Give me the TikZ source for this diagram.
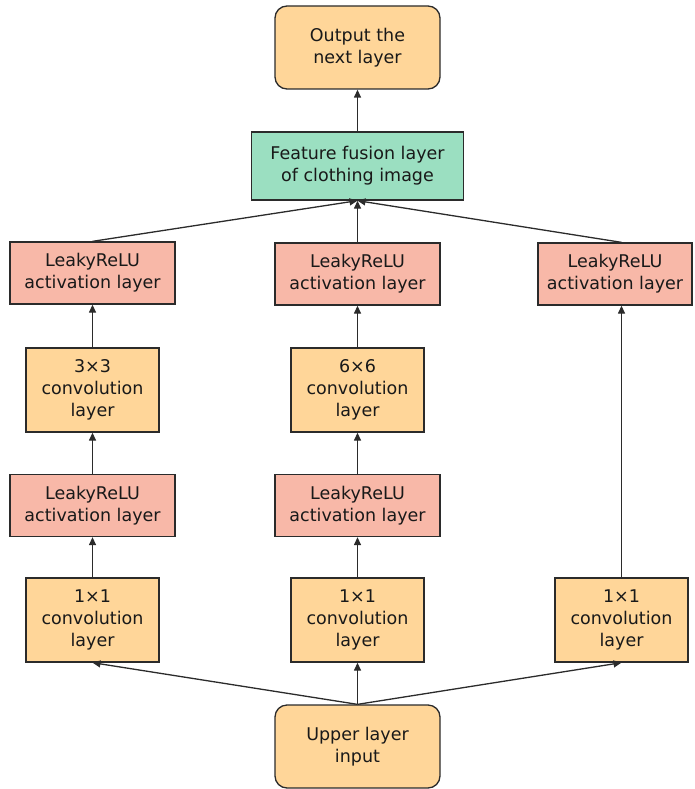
\documentclass[tikz,border=0pt]{standalone}
\usepackage{fontspec}
\setmainfont{DejaVu Sans}
\usetikzlibrary{arrows.meta}
\definecolor{orangefill}{HTML}{FFD699}
\definecolor{redfill}{HTML}{F8B8A8}
\definecolor{greenfill}{HTML}{9BDFC1}
\definecolor{linecol}{HTML}{2B2B2B}
\begin{document}
\begin{tikzpicture}[x=1pt,y=-1pt,
  base/.style={draw=linecol,line width=1.3pt,align=center,inner sep=0pt,
    font=\fontsize{17.5}{22}\selectfont,text=black!90},
  roundbox/.style={base,fill=orangefill,rounded corners=12pt,minimum width=165pt,minimum height=83pt},
  convbox/.style={base,fill=orangefill,minimum width=133pt,minimum height=84pt},
  actbox/.style={base,fill=redfill,minimum width=165pt,minimum height=62pt},
  fusebox/.style={base,fill=greenfill,minimum width=212pt,minimum height=68pt},
  conn/.style={draw=linecol,line width=1.3pt,-{Triangle[length=8pt,width=7pt]}}]
\useasboundingbox (0,0) rectangle (694,789);
\node[roundbox] (out) at (357.5,47.5) {Output the\\next layer};
\node[fusebox] (fus) at (357.5,166) {Feature fusion layer\\of clothing image};
\node[actbox] (a1) at (92.5,273) {LeakyReLU\\activation layer};
\node[actbox] (a2) at (357.5,274) {LeakyReLU\\activation layer};
\node[actbox,minimum width=154pt] (a3) at (615,274) {LeakyReLU\\activation layer};
\node[convbox] (c3) at (92.5,390) {3×3\\convolution\\layer};
\node[convbox] (c6) at (357.5,390) {6×6\\convolution\\layer};
\node[actbox] (b1) at (92.5,505.5) {LeakyReLU\\activation layer};
\node[actbox] (b2) at (357.5,505.5) {LeakyReLU\\activation layer};
\node[convbox] (d1) at (92.5,620) {1×1\\convolution\\layer};
\node[convbox] (d2) at (357.5,620) {1×1\\convolution\\layer};
\node[convbox] (d3) at (621.5,620) {1×1\\convolution\\layer};
\node[roundbox] (in) at (357.5,746.5) {Upper layer\\input};
\draw[conn] (in.north) -- (d1.south);
\draw[conn] (in.north) -- (d2.south);
\draw[conn] (in.north) -- (d3.south);
\draw[conn] (d1.north) -- (b1.south);
\draw[conn] (d2.north) -- (b2.south);
\draw[conn] (b1.north) -- (c3.south);
\draw[conn] (b2.north) -- (c6.south);
\draw[conn] (c3.north) -- (a1.south);
\draw[conn] (c6.north) -- (a2.south);
\draw[conn] (d3.north) -- (d3.north |- a3.south);
\draw[conn] (a1.north) -- (fus.south);
\draw[conn] (a2.north) -- (fus.south);
\draw[conn] (a3.north -| d3.north) -- (fus.south);
\draw[conn] (fus.north) -- (out.south);
\end{tikzpicture}
\end{document}
